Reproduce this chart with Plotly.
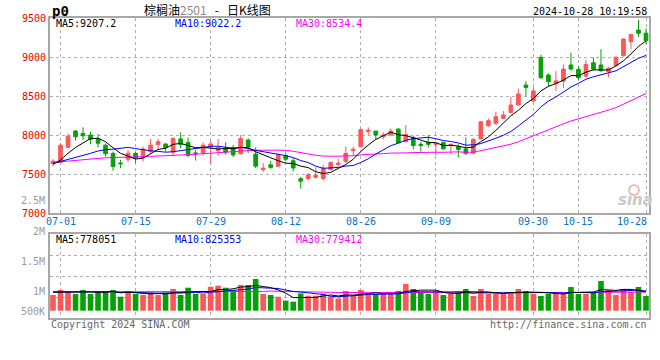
import plotly.graph_objects as go
import pandas as pd

# ---------------- data ----------------
dates = ["06-28", "07-01", "07-02", "07-03", "07-04", "07-05", "07-08", "07-09", "07-10", "07-11",
         "07-12", "07-15", "07-16", "07-17", "07-18", "07-19", "07-22", "07-23", "07-24", "07-25",
         "07-26", "07-29", "07-30", "07-31", "08-01", "08-02", "08-05", "08-06", "08-07", "08-08",
         "08-09", "08-12", "08-13", "08-14", "08-15", "08-16", "08-19", "08-20", "08-21", "08-22",
         "08-23", "08-26", "08-27", "08-28", "08-29", "08-30", "09-02", "09-03", "09-04", "09-05",
         "09-06", "09-09", "09-10", "09-11", "09-12", "09-13", "09-18", "09-19", "09-20", "09-23",
         "09-24", "09-25", "09-26", "09-27", "09-30", "10-08", "10-09", "10-10", "10-11", "10-14",
         "10-15", "10-16", "10-17", "10-18", "10-21", "10-22", "10-23", "10-24", "10-25", "10-28"]

opens = [7635, 7650, 7840, 8050, 8020, 8000, 7950, 7870, 7765, 7640,
         7690, 7765, 7712, 7790, 7875, 7885, 7780, 7950, 7905, 7770,
         7767, 7845, 7800, 7830, 7840, 7760, 7935, 7755, 7555, 7618,
         7600, 7737, 7670, 7440, 7442, 7458, 7442, 7555, 7620, 7662,
         7798, 7850, 8045, 8050, 7980, 8000, 8075, 7915, 7965, 7880,
         7906, 7880, 7902, 7865, 7850, 7820, 7765, 7950, 8120, 8150,
         8213, 8287, 8385, 8640, 8435, 8995, 8769, 8660, 8690, 8897,
         8840, 8755, 8925, 8897, 8812, 8890, 9020, 9195, 9345, 9305]

highs = [7690, 7895, 8020, 8064, 8098, 8042, 8013, 7894, 7788, 7682,
         7809, 7780, 7852, 7949, 7949, 7894, 7970, 8034, 7966, 7809,
         7907, 7928, 7949, 7907, 7873, 8000, 7958, 7843, 7640, 7669,
         7767, 7767, 7703, 7462, 7512, 7584, 7618, 7661, 7695, 7852,
         7852, 8085, 8098, 8051, 8034, 8085, 8090, 8128, 7991, 7915,
         8000, 7906, 7915, 7893, 7880, 7970, 7957, 8180, 8213, 8300,
         8307, 8492, 8595, 8690, 8615, 9030, 8790, 8820, 8905, 9055,
         8885, 8965, 8995, 9100, 8875, 9005, 9235, 9292, 9475, 9368]

lows = [7600, 7640, 7835, 7928, 7936, 7881, 7839, 7724, 7542, 7576,
        7652, 7640, 7661, 7767, 7809, 7788, 7724, 7830, 7716, 7673,
        7740, 7627, 7737, 7746, 7716, 7750, 7767, 7576, 7525, 7567,
        7590, 7661, 7533, 7313, 7419, 7441, 7419, 7550, 7597, 7640,
        7737, 7845, 8000, 7936, 7944, 7990, 7890, 7905, 7816, 7786,
        7838, 7740, 7815, 7752, 7714, 7744, 7760, 7945, 8107, 8128,
        8205, 8278, 8380, 8495, 8430, 8718, 8620, 8565, 8600, 8825,
        8705, 8735, 8825, 8810, 8740, 8885, 9005, 9100, 9260, 9165]

closes = [7665, 7870, 7985, 7980, 7990, 7945, 7895, 7760, 7595, 7632,
          7765, 7705, 7820, 7870, 7915, 7840, 7955, 7880, 7740, 7765,
          7870, 7885, 7840, 7780, 7745, 7955, 7845, 7600, 7575, 7585,
          7745, 7690, 7577, 7408, 7490, 7483, 7575, 7648, 7640, 7765,
          7818, 8070, 8062, 8000, 8000, 8050, 7902, 8008, 7865, 7865,
          7880, 7893, 7822, 7880, 7815, 7765, 7944, 8170, 8183, 8235,
          8256, 8385, 8525, 8610, 8565, 8735, 8684, 8695, 8845, 8846,
          8735, 8905, 8845, 8825, 8855, 8998, 9230, 9290, 9305, 9213]

volumes = [652000, 859000, 789000, 693000, 859000, 693000, 789000, 789000, 859000, 581000,
           818000, 693000, 652000, 747000, 652000, 747000, 901000, 652000, 955000, 693000,
           693000, 996000, 1038000, 955000, 859000, 1067000, 1067000, 1316000, 693000, 652000,
           581000, 415000, 374000, 718000, 623000, 623000, 718000, 581000, 510000, 818000,
           610000, 859000, 718000, 693000, 693000, 693000, 818000, 1108000, 901000, 747000,
           693000, 818000, 652000, 693000, 776000, 901000, 610000, 901000, 693000, 693000,
           693000, 776000, 901000, 818000, 693000, 610000, 693000, 735000, 735000, 984000,
           693000, 693000, 776000, 1233000, 859000, 652000, 901000, 776000, 984000, 610000]

# moving-average values before the window is full
ma5_head = [7625, 7680, 7765, 7840]
ma10_head = [7635, 7660, 7690, 7715, 7737, 7765, 7795, 7812, 7818]
ma30_head = [7648, 7658, 7667, 7676, 7685, 7693, 7700, 7707, 7712, 7716,
             7719, 7721, 7723, 7726, 7729, 7732, 7735, 7739, 7745, 7752,
             7760, 7768, 7774, 7779, 7785, 7793, 7800, 7805, 7807]
vma5_head = [770000, 775000, 780000, 778000]
vma10_head = [775000, 776000, 778000, 780000, 781000, 783000, 785000, 786000, 788000]
vma30_head = [781000, 781000, 782000, 782000, 783000, 783000, 784000, 784000, 785000, 785000,
              786000, 786000, 787000, 787000, 788000, 788000, 789000, 789000, 790000, 790000,
              791000, 792000, 793000, 794000, 795000, 796000, 797000, 798000, 799000]

price_ticks = [7000, 7500, 8000, 8500, 9000, 9500]
date_ticks = ["07-01", "07-15", "07-29", "08-12", "08-26", "09-09", "09-30", "10-15", "10-28"]
vol_tick_labels = ["2.5M", "2M", "1.5M", "1M", "500K"]

ma_price_last = {"MA5": 9207.2, "MA10": 9022.2, "MA30": 8534.4}
ma_vol_last = {"MA5": 778051, "MA10": 825353, "MA30": 779412}


def moving_average(values, n, head):
    s = pd.Series(values, dtype=float).rolling(n).mean()
    s.iloc[:n - 1] = head
    return s.tolist()


ma5 = moving_average(closes, 5, ma5_head)
ma10 = moving_average(closes, 10, ma10_head)
ma30 = moving_average(closes, 30, ma30_head)
vma5 = moving_average(volumes, 5, vma5_head)
vma10 = moving_average(volumes, 10, vma10_head)
vma30 = moving_average(volumes, 30, vma30_head)

# ---------------- styling ----------------
W, H = 660, 360
MONO = "DejaVu Sans Mono"
CJK = "Noto Sans CJK SC"
RED = "#fa5858"
GREEN = "#06a106"
MA_COLORS = {"MA5": "#000000", "MA10": "#0000ff", "MA30": "#ff00ff"}


def px(x):
    return x / W


def py(y):
    return 1 - y / H


# pixel layout of the two panels
LEFT, RIGHT = 50, 649
MAIN_TOP, MAIN_BOTTOM = 18, 213
VOL_TOP, VOL_BOTTOM = 234, 318
VOL_ZERO_PX = 310.7
VOL_PER_PX = 41500.0

fig = go.Figure()

fig.add_trace(go.Candlestick(
    x=dates, open=opens, high=highs, low=lows, close=closes,
    increasing=dict(line=dict(color=RED, width=1), fillcolor=RED),
    decreasing=dict(line=dict(color=GREEN, width=1), fillcolor=GREEN),
    whiskerwidth=0, xaxis="x", yaxis="y", hoverinfo="skip"))

for name, series in (("MA30", ma30), ("MA10", ma10), ("MA5", ma5)):
    fig.add_trace(go.Scatter(x=dates, y=series, mode="lines", xaxis="x", yaxis="y",
                             line=dict(color=MA_COLORS[name], width=1), hoverinfo="skip"))

bar_colors = [RED if c >= o else GREEN for o, c in zip(opens, closes)]
fig.add_trace(go.Bar(x=dates, y=volumes, marker=dict(color=bar_colors, line=dict(width=0)),
                     width=0.75, xaxis="x2", yaxis="y2", hoverinfo="skip"))

for name, series in (("MA30", vma30), ("MA10", vma10), ("MA5", vma5)):
    fig.add_trace(go.Scatter(x=dates, y=series, mode="lines", xaxis="x2", yaxis="y2",
                             line=dict(color=MA_COLORS[name], width=1), hoverinfo="skip"))

grid = dict(showgrid=True, gridcolor="#b0b0b0", griddash="dot", gridwidth=1)
frame = dict(showline=True, mirror=True, linecolor="#a8a8a8", linewidth=2)

vol_grid_vals = [(VOL_ZERO_PX - y) * VOL_PER_PX for y in (255, 276, 297)]

fig.update_layout(
    width=W, height=H, margin=dict(l=0, r=0, t=0, b=0),
    paper_bgcolor="white", plot_bgcolor="white",
    showlegend=False, hovermode=False,
    xaxis=dict(domain=[px(LEFT), px(RIGHT)], anchor="y", type="category",
               range=[-0.4, len(dates) - 0.6], tickmode="array", tickvals=date_ticks,
               showticklabels=False, ticks="", rangeslider=dict(visible=False),
               zeroline=False, automargin=False, **grid, **frame),
    yaxis=dict(domain=[py(MAIN_BOTTOM), py(MAIN_TOP)], anchor="x", range=[7000, 9500],
               tickmode="array", tickvals=price_ticks, ticktext=[str(v) for v in price_ticks],
               tickfont=dict(family=MONO, size=10, color="#e60000"), ticks="",
               zeroline=False, automargin=False, **grid, **frame),
    xaxis2=dict(domain=[px(LEFT), px(RIGHT)], anchor="y2", type="category", matches="x",
                tickmode="array", tickvals=date_ticks, showticklabels=False, ticks="",
                zeroline=False, automargin=False, **grid, **frame),
    yaxis2=dict(domain=[py(VOL_BOTTOM), py(VOL_TOP)], anchor="x2",
                range=[(VOL_ZERO_PX - VOL_BOTTOM) * VOL_PER_PX, (VOL_ZERO_PX - VOL_TOP) * VOL_PER_PX],
                tickmode="array", tickvals=vol_grid_vals, showticklabels=False, ticks="",
                zeroline=False, automargin=False, **grid, **frame),
)


def label(text, x, y, color, size=10, xanchor="left", family=MONO, **kw):
    return dict(text=text, x=px(x), y=py(y), xref="paper", yref="paper",
                xanchor=xanchor, yanchor="middle", showarrow=False,
                font=dict(family=family, size=size, color=color), **kw)


ann = []
ann.append(label("<b>p0</b>", 50, 11, "#000000", size=14))
ann.append(label("棕榈油<span style='color:#8a8a8a'>2501</span>&nbsp;&nbsp;&nbsp;-&nbsp;&nbsp;&nbsp;日K线图",
                 208, 9, "#000000", size=12, xanchor="center", family=CJK))
ann.append(label("2024-10-28 10:19:58", 649, 11, "#000000", size=10, xanchor="right"))

ma_x = {"MA5": 54, "MA10": 173, "MA30": 294}
for name, v in ma_price_last.items():
    ann.append(label(f"{name}:{v:.1f}", ma_x[name], 24, MA_COLORS[name]))
for name, v in ma_vol_last.items():
    ann.append(label(f"{name}:{v}", ma_x[name], 239, MA_COLORS[name]))

vol_label_y = {"2.5M": 200, "2M": 231, "1.5M": 261, "1M": 291, "500K": 311}
for t in vol_tick_labels:
    ann.append(label(t, 47, vol_label_y[t], "#9a9a9a", size=10, xanchor="right"))

for d in date_ticks:
    if d == date_ticks[-1]:
        ann.append(label(d, 649, 221, "#0a72c8", size=10, xanchor="right"))
    else:
        ann.append(dict(text=d, x=d, y=py(221), xref="x", yref="paper", xanchor="center",
                        yanchor="middle", showarrow=False,
                        font=dict(family=MONO, size=10, color="#0a72c8")))

ann.append(label("Copyright 2024 SINA.COM", 49, 324, "#666666", size=10))
ann.append(label("http://finance.sina.com.cn", 649, 324, "#666666", size=10, xanchor="right"))
ann.append(label("<b><i>sina</i></b>", 635, 200, "#c8c8c8", size=15, xanchor="center",
                 family="DejaVu Sans"))

fig.update_layout(annotations=ann)
fig.add_shape(type="circle", xref="paper", yref="paper",
              x0=px(629), x1=px(639), y0=py(195), y1=py(185),
              line=dict(color="#f2a8a8", width=1.5))

fig.write_html("out.html", config={"displayModeBar": False},
               post_script="document.body.style.margin='0';")
